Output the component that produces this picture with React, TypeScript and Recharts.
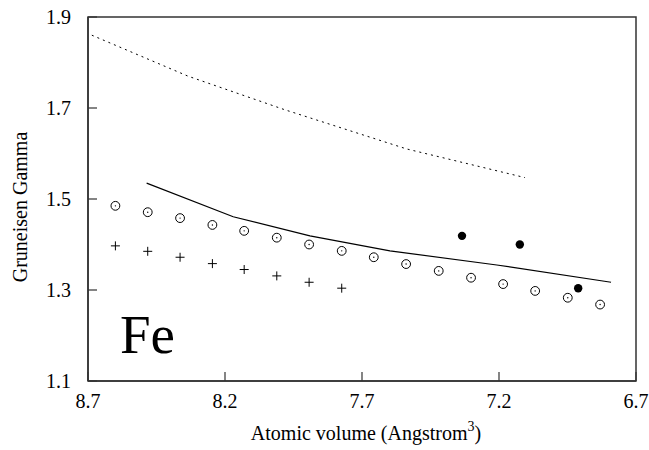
import { ComposedChart, Line, Scatter, XAxis, YAxis, ReferenceArea } from 'recharts';

// reference data
const circleVolume = [8.6, 8.482, 8.364, 8.246, 8.13, 8.011, 7.893, 7.774, 7.657, 7.539, 7.42, 7.302, 7.185, 7.068, 6.949, 6.831];
const circleGamma = [1.485, 1.471, 1.458, 1.443, 1.43, 1.415, 1.4, 1.386, 1.372, 1.357, 1.342, 1.327, 1.313, 1.298, 1.283, 1.268];

const plusVolume = [8.6, 8.482, 8.364, 8.246, 8.13, 8.011, 7.893, 7.774];
const plusGamma = [1.397, 1.385, 1.372, 1.358, 1.345, 1.331, 1.317, 1.304];

const filledVolume = [7.335, 7.124, 6.911];
const filledGamma = [1.419, 1.4, 1.304];

const solidVolume = [8.486, 8.17, 7.89, 7.598, 7.208, 6.791];
const solidGamma = [1.535, 1.461, 1.419, 1.386, 1.355, 1.317];

const dottedVolume = [8.686, 8.335, 7.981, 7.537, 7.105];
const dottedGamma = [1.86, 1.77, 1.696, 1.61, 1.547];

const xTicks = [8.7, 8.2, 7.7, 7.2, 6.7];
const yTicks = [1.1, 1.3, 1.5, 1.7, 1.9];

const FONT = "'Liberation Serif', 'Times New Roman', serif";

const toPoints = (xs: number[], ys: number[]) => xs.map((v, i) => ({ v, g: ys[i] }));

const circles = toPoints(circleVolume, circleGamma);
const pluses = toPoints(plusVolume, plusGamma);
const filled = toPoints(filledVolume, filledGamma);
const solid = toPoints(solidVolume, solidGamma);
const dotted = toPoints(dottedVolume, dottedGamma);

const CircleDot = (props: any) => {
  const { cx, cy } = props;
  return (
    <g>
      <circle cx={cx} cy={cy} r={4.4} fill="none" stroke="#000" strokeWidth={1} />
      <circle cx={cx} cy={cy} r={0.7} fill="#000" />
    </g>
  );
};

const Plus = (props: any) => {
  const { cx, cy } = props;
  return (
    <path d={`M${cx - 4.5},${cy}H${cx + 4.5}M${cx},${cy - 4.5}V${cy + 4.5}`} stroke="#000" strokeWidth={1} />
  );
};

const Filled = (props: any) => {
  const { cx, cy } = props;
  return <circle cx={cx} cy={cy} r={4.2} fill="#000" />;
};

const XTick = (props: any) => {
  const { x, payload } = props;
  return (
    <text x={x} y={408} textAnchor="middle" style={{ fontFamily: FONT, fontSize: 20 }} fill="#000">
      {payload.value.toFixed(1)}
    </text>
  );
};

const YTick = (props: any) => {
  const { y, payload } = props;
  return (
    <text x={71} y={y + 7} textAnchor="end" style={{ fontFamily: FONT, fontSize: 20 }} fill="#000">
      {payload.value.toFixed(1)}
    </text>
  );
};

const XLabel = (props: any) => {
  const { viewBox } = props;
  const cx = viewBox.x + viewBox.width / 2;
  return (
    <text x={cx + 4} y={440} textAnchor="middle" style={{ fontFamily: FONT, fontSize: 20 }} fill="#000">
      Atomic volume (Angstrom
      <tspan dy={-9} style={{ fontSize: 14 }}>3</tspan>
      <tspan dy={9}>)</tspan>
    </text>
  );
};

const YLabel = (props: any) => {
  const { viewBox } = props;
  const cy = viewBox.y + viewBox.height / 2 + 8;
  return (
    <text x={0} y={0} transform={`translate(27, ${cy}) rotate(-90)`} textAnchor="middle"
      style={{ fontFamily: FONT, fontSize: 20 }} fill="#000">
      Gruneisen Gamma
    </text>
  );
};

const App = () => {
  return (
    <div style={{ position: 'absolute', left: 0, top: 0, width: 649, height: 450, background: '#fff' }}>
      <ComposedChart width={649} height={450} margin={{ top: 17, right: 13, left: 0, bottom: 0 }}>
        <XAxis
          type="number"
          dataKey="v"
          domain={[6.7, 8.7]}
          reversed
          ticks={xTicks}
          allowDataOverflow
          height={69}
          tickSize={-9}
          tickMargin={22}
          axisLine={{ stroke: '#333', strokeWidth: 1.5 }}
          tickLine={{ stroke: '#333', strokeWidth: 1.2 }}
          tick={<XTick />}
          label={<XLabel />}
        />
        <YAxis
          type="number"
          dataKey="g"
          domain={[1.1, 1.9]}
          ticks={yTicks}
          allowDataOverflow
          width={88}
          tickSize={-9}
          tickMargin={26}
          axisLine={{ stroke: '#333', strokeWidth: 1.5 }}
          tickLine={{ stroke: '#333', strokeWidth: 1.2 }}
          tick={<YTick />}
          label={<YLabel />}
        />
        <ReferenceArea x1={8.7} x2={6.7} y1={1.1} y2={1.9} fill="none" stroke="#333" strokeWidth={1.5} />
        <Line data={dotted} dataKey="g" type="linear" stroke="#000" strokeWidth={1} strokeDasharray="2 4"
          dot={false} activeDot={false} isAnimationActive={false} />
        <Line data={solid} dataKey="g" type="linear" stroke="#000" strokeWidth={1.2}
          dot={false} activeDot={false} isAnimationActive={false} />
        <Scatter data={circles} dataKey="g" shape={<CircleDot />} isAnimationActive={false} />
        <Scatter data={pluses} dataKey="g" shape={<Plus />} isAnimationActive={false} />
        <Scatter data={filled} dataKey="g" shape={<Filled />} isAnimationActive={false} />
      </ComposedChart>
      <div style={{ position: 'absolute', left: 120, top: 302, fontFamily: FONT, fontSize: 55, lineHeight: '66px', color: '#000' }}>
        Fe
      </div>
    </div>
  );
};

export default App;
